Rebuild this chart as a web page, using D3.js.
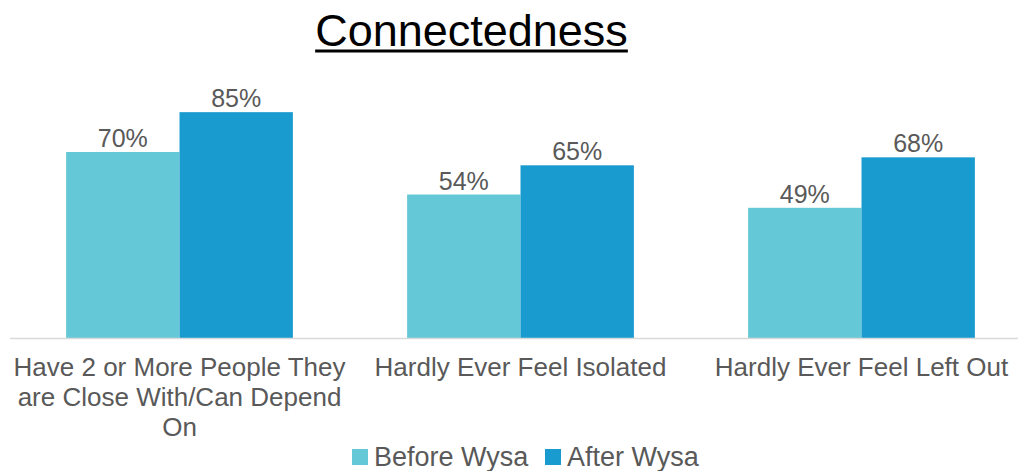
<!DOCTYPE html>
<html>
<head>
<meta charset="utf-8">
<script src="https://cdn.jsdelivr.net/npm/d3@7/dist/d3.min.js"></script>
<style>
  html, body { margin: 0; padding: 0; background: #fff; }
  svg { display: block; font-family: "Liberation Sans", Arial, sans-serif; }
</style>
</head>
<body>
<svg id="chart" width="1028" height="471"></svg>
<script>
// Survey results: share of respondents before and after using Wysa
const categories = [
  ["Have 2 or More People They", "are Close With/Can Depend", "On"],
  ["Hardly Ever Feel Isolated"],
  ["Hardly Ever Feel Left Out"]
];
const seriesNames = ["Before Wysa", "After Wysa"];
const beforeValues = [70, 54, 49];
const afterValues = [85, 65, 68];
const seriesColors = ["#65c8d6", "#1a9bd0"];

const svg = d3.select("#chart");
const textColor = "#595959";

const keys = categories.map((c, i) => "c" + i);
const x = d3.scaleBand().domain(keys).range([9, 1032])
  .paddingInner(0.335).paddingOuter(0.1675);
const xs = d3.scaleBand().domain(seriesNames).range([0, x.bandwidth()]);
const y = d3.scaleLinear().domain([0, 100]).range([338, 72.3]);

// Title
const title = svg.append("text")
  .attr("x", 471.5).attr("y", 46)
  .attr("text-anchor", "middle")
  .attr("font-size", 45)
  .attr("fill", "#000")
  .text("Connectedness");
const tb = title.node().getBBox();
svg.append("rect")
  .attr("x", tb.x).attr("y", 49.5)
  .attr("width", tb.width).attr("height", 3)
  .attr("fill", "#000");

// Bars
const rows = keys.map((k, i) => ({ key: k, values: [beforeValues[i], afterValues[i]] }));
const groups = svg.append("g").selectAll("g").data(rows).join("g")
  .attr("transform", d => `translate(${x(d.key)},0)`);

groups.selectAll("rect")
  .data(d => d.values.map((v, j) => ({ name: seriesNames[j], value: v, j })))
  .join("rect")
  .attr("x", d => xs(d.name))
  .attr("width", xs.bandwidth())
  .attr("y", d => y(d.value))
  .attr("height", d => y(0) - y(d.value))
  .attr("fill", d => seriesColors[d.j]);

groups.selectAll("text.val")
  .data(d => d.values.map((v, j) => ({ name: seriesNames[j], value: v })))
  .join("text")
  .attr("class", "val")
  .attr("x", d => xs(d.name) + xs.bandwidth() / 2)
  .attr("y", d => y(d.value) - 5)
  .attr("text-anchor", "middle")
  .attr("font-size", 25)
  .attr("fill", textColor)
  .text(d => d.value + "%");

// Category axis
svg.append("line")
  .attr("x1", 10).attr("x2", 1018)
  .attr("y1", 338.5).attr("y2", 338.5)
  .attr("stroke", "#d9d9d9").attr("stroke-width", 1.5);

const catLabels = svg.append("g").selectAll("text").data(rows).join("text")
  .attr("text-anchor", "middle")
  .attr("font-size", 26)
  .attr("fill", textColor)
  .attr("transform", d => `translate(${x(d.key) + x.bandwidth() / 2},376)`);
catLabels.selectAll("tspan")
  .data((d, i) => categories[i])
  .join("tspan")
  .attr("x", 0)
  .attr("y", (d, i) => i * 30)
  .text(d => d);

// Legend
const legendPos = [352, 545];
const legend = svg.append("g").selectAll("g").data(seriesNames).join("g")
  .attr("transform", (d, i) => `translate(${legendPos[i]},449)`);
legend.append("rect")
  .attr("width", 16).attr("height", 16)
  .attr("fill", (d, i) => seriesColors[i]);
legend.append("text")
  .attr("x", 22).attr("y", 17)
  .attr("font-size", 27)
  .attr("fill", textColor)
  .text(d => d);
</script>
</body>
</html>
